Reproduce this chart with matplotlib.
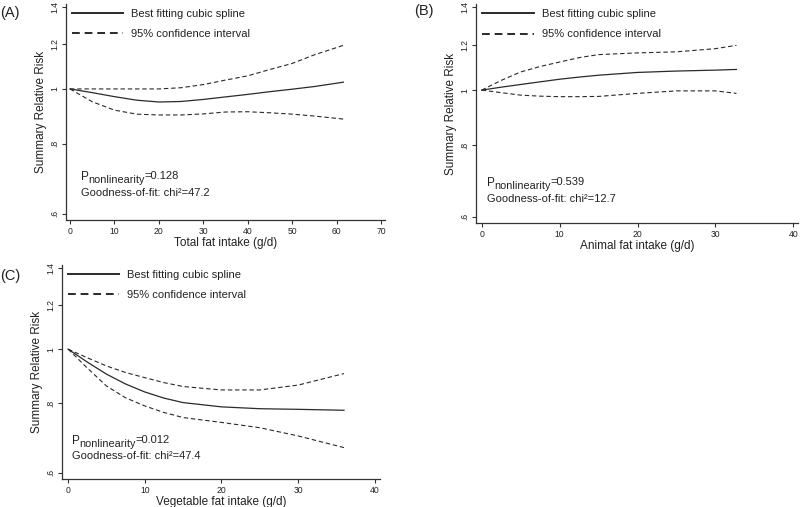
import matplotlib
matplotlib.use("Agg")
import matplotlib.pyplot as plt

plt.rcParams['font.family'] = ['Liberation Sans', 'DejaVu Sans']

# ---- data ----
a_x = [0, 5, 10, 15, 20, 25, 30, 35, 40, 45, 50, 55, 61.5]
a_fit = [1, 0.985, 0.969, 0.955, 0.948, 0.950, 0.958, 0.968, 0.978, 0.989, 0.999, 1.010, 1.028]
a_upper = [1, 1.0, 1.0, 1.0, 1.0, 1.005, 1.018, 1.037, 1.055, 1.083, 1.11, 1.15, 1.195]
a_lower = [1, 0.949, 0.917, 0.902, 0.899, 0.899, 0.903, 0.910, 0.911, 0.907, 0.902, 0.895, 0.884]

b_x = [0, 2.5, 5, 7.5, 10, 12.5, 15, 20, 25, 30, 32.7]
b_fit = [1, 1.012, 1.023, 1.034, 1.045, 1.054, 1.062, 1.074, 1.080, 1.084, 1.087]
b_upper = [1, 1.040, 1.076, 1.100, 1.120, 1.140, 1.154, 1.162, 1.167, 1.182, 1.198]
b_lower = [1, 0.990, 0.980, 0.976, 0.974, 0.974, 0.975, 0.987, 0.997, 0.997, 0.987]

c_x = [0, 2.5, 5, 7.5, 10, 12.5, 15, 20, 25, 30, 36]
c_fit = [1, 0.948, 0.902, 0.866, 0.838, 0.817, 0.802, 0.788, 0.782, 0.780, 0.777]
c_upper = [1, 0.965, 0.933, 0.908, 0.889, 0.871, 0.857, 0.845, 0.845, 0.862, 0.904]
c_lower = [1, 0.925, 0.859, 0.818, 0.791, 0.770, 0.754, 0.739, 0.723, 0.699, 0.666]

y_ticks = [0.6, 0.8, 1.0, 1.2, 1.4]
y_ticklabels = ['.6', '.8', '1', '1.2', '1.4']

panels = [
    dict(tag='(A)', x=a_x, fit=a_fit, up=a_upper, lo=a_lower,
         xlabel='Total fat intake (g/d)', xticks=[0, 10, 20, 30, 40, 50, 60, 70],
         xlim=(-0.9, 70.9), p='0.128', chi='47.2',
         rect=[0.0825, 0.566, 0.399, 0.426], ann=(0.047, 0.199, 0.125),
         tagpos=(0.0, 0.975)),
    dict(tag='(B)', x=b_x, fit=b_fit, up=b_upper, lo=b_lower,
         xlabel='Animal fat intake (g/d)', xticks=[0, 10, 20, 30, 40],
         xlim=(-0.73, 40.6), p='0.539', chi='12.7',
         rect=[0.595, 0.560, 0.4025, 0.432], ann=(0.034, 0.183, 0.110),
         tagpos=(0.518, 0.978)),
    dict(tag='(C)', x=c_x, fit=c_fit, up=c_upper, lo=c_lower,
         xlabel='Vegetable fat intake (g/d)', xticks=[0, 10, 20, 30, 40],
         xlim=(-0.8, 40.7), p='0.012', chi='47.4',
         rect=[0.0775, 0.0552, 0.3975, 0.422], ann=(0.031, 0.178, 0.107),
         tagpos=(0.0, 0.455)),
]

fig = plt.figure(figsize=(8.0, 5.07), dpi=100)
txt = '#222222'
linec = '#2a2a2a'

for p in panels:
    ax = fig.add_axes(p['rect'])
    ax.set_yscale('log')
    ax.plot(p['x'], p['fit'], color=linec, lw=0.9, label='Best fitting cubic spline')
    ax.plot(p['x'], p['up'], color=linec, lw=0.8, dashes=(4, 2.5),
            label='95% confidence interval')
    ax.plot(p['x'], p['lo'], color=linec, lw=0.8, dashes=(4, 2.5))
    ax.set_ylim(0.585, 1.415)
    ax.set_xlim(*p['xlim'])
    ax.set_yticks(y_ticks)
    ax.set_yticklabels(y_ticklabels, rotation=90, va='center')
    ax.minorticks_off()
    ax.set_xticks(p['xticks'])
    ax.tick_params(axis='both', labelsize=6.2, length=3, width=0.8,
                   colors='#333333', labelcolor=txt, pad=2)
    for s in ['top', 'right']:
        ax.spines[s].set_visible(False)
    for s in ['left', 'bottom']:
        ax.spines[s].set_color('#333333')
        ax.spines[s].set_linewidth(0.9)
    ax.set_xlabel(p['xlabel'], fontsize=8.5, color=txt, labelpad=1)
    ax.set_ylabel('Summary Relative Risk', fontsize=8.5, color=txt, labelpad=2)
    leg = ax.legend(loc='upper left', bbox_to_anchor=(0.02, 0.978), frameon=False,
                    fontsize=8, handlelength=4.6, handletextpad=0.72,
                    labelspacing=0.95, borderaxespad=0, borderpad=0)
    for t in leg.get_texts():
        t.set_color(txt)
    for ln in leg.get_lines():
        ln.set_linewidth(1.4)
    ax_x, y1, y2 = p['ann']
    t1 = ax.text(ax_x, y1, 'P', transform=ax.transAxes, fontsize=8.5,
                 color=txt, va='center', ha='left')
    t2 = ax.annotate('nonlinearity', xy=(1, 0), xycoords=t1, xytext=(-0.6, -1.6),
                     textcoords='offset points', fontsize=7.8, color=txt,
                     va='bottom', ha='left')
    ax.annotate('=' + p['p'], xy=(1, 0), xycoords=t2, xytext=(-0.3, 3.0),
                textcoords='offset points', fontsize=8, color=txt,
                va='bottom', ha='left')
    ax.text(ax_x, y2, 'Goodness-of-fit: chi\u00b2=' + p['chi'], transform=ax.transAxes,
            fontsize=8, color=txt, va='center', ha='left')
    fig.text(p['tagpos'][0], p['tagpos'][1], p['tag'], fontsize=10.5, color=txt,
             ha='left', va='center')

fig.savefig('out.png', dpi=100)
